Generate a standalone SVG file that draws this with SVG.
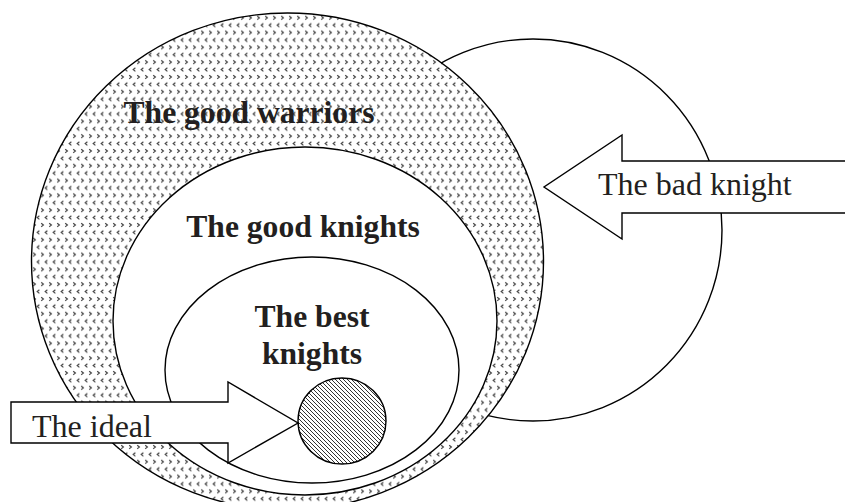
<svg xmlns="http://www.w3.org/2000/svg" width="845" height="502" viewBox="0 0 845 502">
  <style>
    .shape { stroke: #000; stroke-width: 1.4; }
    .white { fill: #fff; }
    .bold { font-family: "Liberation Serif", "Times New Roman", serif; font-weight: bold; font-size: 31.6px; fill: #231f20; text-anchor: middle; }
    .reg { font-family: "Liberation Serif", "Times New Roman", serif; font-size: 32px; fill: #231f20; }
    .mark { fill: none; stroke: #444; stroke-width: 1.2; }
  </style>
  <defs>
    <pattern id="dots" patternUnits="userSpaceOnUse" width="8" height="14.8">
      <rect width="8" height="14.8" fill="#fff"/>
      <path class="mark" d="M1.2,1.2 L3.4,3 L1.2,4.8"/>
      <path class="mark" d="M7.4,8.6 L5.2,10.4 L7.4,12.2"/>
    </pattern>
    <pattern id="hatch" patternUnits="userSpaceOnUse" width="4" height="4">
      <rect width="4" height="4" fill="#fff"/>
      <path d="M-1,-1 L5,5 M-1,3 L1,5 M3,-1 L5,1" stroke="#333" stroke-width="1"/>
    </pattern>
  </defs>

  <g id="bad-circle">
    <ellipse class="shape white" cx="533" cy="230" rx="189" ry="191"/>
  </g>
  <g id="good-warriors">
    <ellipse class="shape" cx="287.5" cy="261.5" rx="256" ry="248.5" fill="url(#dots)"/>
    <text class="bold" x="249" y="123">The good warriors</text>
  </g>
  <g id="good-knights">
    <ellipse class="shape white" cx="305" cy="321" rx="192" ry="174"/>
    <text class="bold" x="303" y="237">The good knights</text>
  </g>
  <g id="best-knights">
    <ellipse class="shape white" cx="312" cy="370" rx="147" ry="113"/>
    <text class="bold" x="312" y="327">The best</text>
    <text class="bold" x="312" y="364">knights</text>
  </g>
  <g id="ideal">
    <ellipse class="shape" cx="342" cy="421" rx="44" ry="43" fill="url(#hatch)"/>
  </g>

  <g id="connectors">
    <g id="arrow-ideal">
      <polygon class="shape white" points="11,402 228,402 228,382 298,423 228,463 228,443 11,443"/>
      <text class="reg" x="32" y="437">The ideal</text>
    </g>
    <g id="arrow-bad-knight">
      <polygon class="shape white" points="850,161 622,161 622,135 544,187 622,239 622,213 850,213"/>
      <text class="reg" x="598" y="195">The bad knight</text>
    </g>
  </g>
</svg>
